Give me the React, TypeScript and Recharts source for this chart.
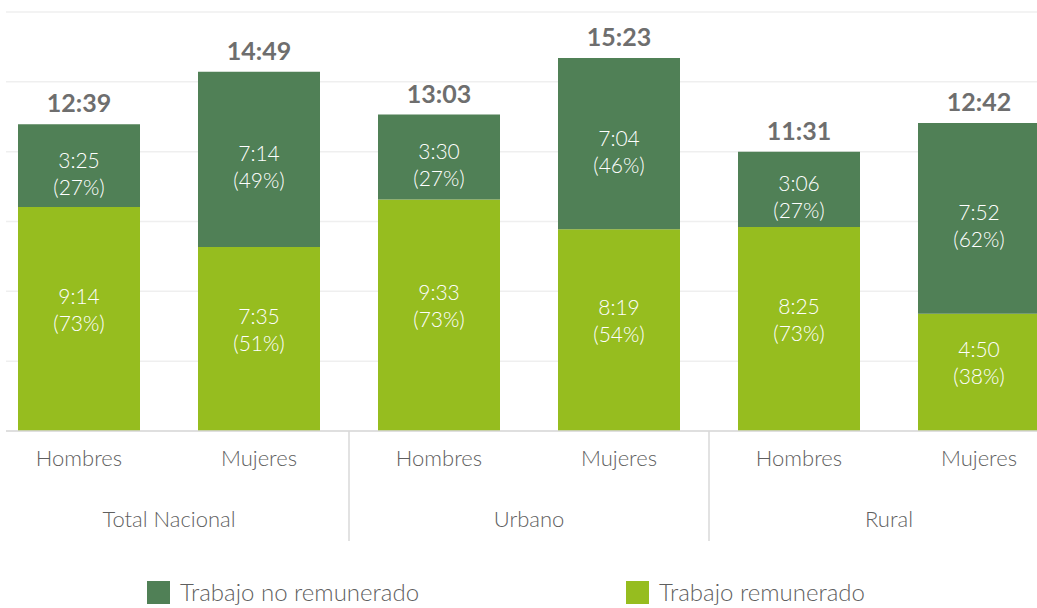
import { BarChart, Bar, XAxis, YAxis, CartesianGrid, Legend, LabelList } from 'recharts'

// minutos por día
const grupos = ['Total Nacional', 'Urbano', 'Rural']
const sexos = ['Hombres', 'Mujeres']
const remunerado = [554, 455, 573, 499, 505, 290]
const noRemunerado = [205, 434, 210, 424, 186, 472]
const pctRemunerado = [73, 51, 73, 54, 73, 38]
const pctNoRemunerado = [27, 49, 27, 46, 27, 62]
// eje en fracción de día (0,12 día = 172,8 min)
const ticksY = [0, 172.8, 345.6, 518.4, 691.2, 864, 1036.8]

const VERDE_OSCURO = '#508056'
const VERDE_CLARO = '#96bd1f'
const GRIS = '#6e6e6e'
const GRIS_TEXTO = '#5f5f5f'
const FUENTE = 'Lato, "Noto Sans", sans-serif'

const data = remunerado.map((v, i) => ({
  clave: `${grupos[Math.floor(i / 2)]}-${sexos[i % 2]}`,
  remunerado: v,
  noRemunerado: noRemunerado[i],
}))

const hhmm = (min: number) => `${Math.floor(min / 60)}:${String(Math.round(min % 60)).padStart(2, '0')}`

// desplazamiento vertical: Excel no centra exactamente las etiquetas
const etiquetaSegmento = (valores: number[], pcts: number[], ajuste: number) => (props: any) => {
  const { x, y, width, height, index } = props
  const cx = x + width / 2
  const cy = y + height / 2 + ajuste
  return (
    <text textAnchor="middle" dominantBaseline="central" fill="#ffffff" fontSize={21} fontWeight={300} fontFamily={FUENTE}>
      <tspan x={cx} y={cy - 13}>{hhmm(valores[index])}</tspan>
      <tspan x={cx} y={cy + 14}>({pcts[index]}%)</tspan>
    </text>
  )
}

const etiquetaTotal = (props: any) => {
  const { x, y, width, index } = props
  return (
    <text x={x + width / 2} y={y - 22} textAnchor="middle" dominantBaseline="central" fill={GRIS} fontSize={25} fontWeight="bold" fontFamily={FUENTE}>
      {hhmm(remunerado[index] + noRemunerado[index])}
    </text>
  )
}

const EjeTick = (props: any) => {
  const { x, y, index, payload } = props
  const medio = payload?.offset || 90
  return (
    <g>
      <text x={x} y={y + 26} textAnchor="middle" dominantBaseline="central" fill={GRIS_TEXTO} fontSize={22} fontWeight={300} fontFamily={FUENTE}>
        {sexos[index % 2]}
      </text>
      {index % 2 === 0 && index > 0 && (
        <line x1={x - medio} x2={x - medio} y1={y} y2={y + 110} stroke="#d9d9d9" strokeWidth={1.5} />
      )}
      {index % 2 === 1 && (
        <text x={x - medio} y={y + 87} textAnchor="middle" dominantBaseline="central" fill={GRIS_TEXTO} fontSize={22} fontWeight={300} fontFamily={FUENTE}>
          {grupos[Math.floor(index / 2)]}
        </text>
      )}
    </g>
  )
}

const Leyenda = () => (
  <div style={{ display: 'flex', paddingTop: 12, paddingLeft: 147, height: 28, fontFamily: FUENTE, fontSize: 24, fontWeight: 300, color: GRIS_TEXTO }}>
    {[
      { nombre: 'Trabajo no remunerado', color: VERDE_OSCURO, ancho: 479 },
      { nombre: 'Trabajo remunerado', color: VERDE_CLARO, ancho: 300 },
    ].map((it) => (
      <div key={it.nombre} style={{ display: 'flex', alignItems: 'center', width: it.ancho, height: 24 }}>
        <span style={{ display: 'inline-block', width: 23, height: 23, background: it.color, marginRight: 10 }} />
        <span style={{ lineHeight: '24px' }}>{it.nombre}</span>
      </div>
    ))}
  </div>
)

export default function App() {
  return (
    <div style={{ position: 'fixed', top: 0, left: 0, width: 1037, height: 608, overflow: 'hidden', background: '#fff', fontFamily: FUENTE }}>
      <BarChart width={1075} height={608} data={data} margin={{ top: 12, right: 6, left: 6, bottom: 0 }}>
        <CartesianGrid vertical={false} stroke="#efefef" strokeWidth={1.5} />
        <YAxis hide domain={[0, 1036.8]} ticks={ticksY} width={0} />
        <XAxis
          dataKey="clave"
          interval={0}
          tickLine={false}
          tickSize={0}
          tickMargin={0}
          axisLine={{ stroke: '#d9d9d9', strokeWidth: 1.5 }}
          height={137}
          padding={{ left: -17, right: 0 }}
          tick={<EjeTick />}
        />
        <Legend
          verticalAlign="bottom"
          align="left"
          content={() => <Leyenda />}
          wrapperStyle={{ left: 0, width: 1075, height: 40 }}
        />
        <Bar dataKey="remunerado" name="Trabajo remunerado" stackId="a" fill={VERDE_CLARO} barSize={122} isAnimationActive={false}>
          <LabelList dataKey="remunerado" content={etiquetaSegmento(remunerado, pctRemunerado, -11)} />
        </Bar>
        <Bar dataKey="noRemunerado" name="Trabajo no remunerado" stackId="a" fill={VERDE_OSCURO} barSize={122} isAnimationActive={false}>
          <LabelList dataKey="noRemunerado" content={etiquetaSegmento(noRemunerado, pctNoRemunerado, 6)} />
          <LabelList dataKey="noRemunerado" content={etiquetaTotal} />
        </Bar>
      </BarChart>
    </div>
  )
}
